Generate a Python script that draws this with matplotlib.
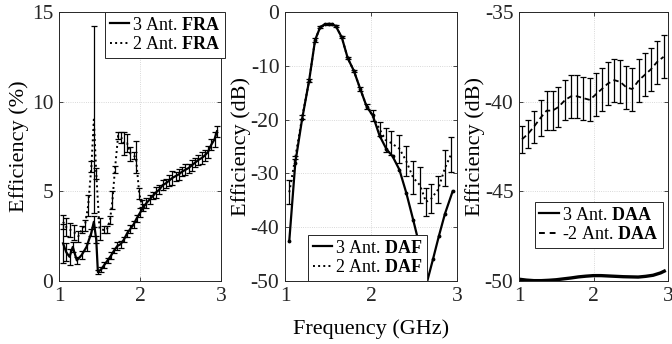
import numpy as np
import matplotlib
matplotlib.use('Agg')
import matplotlib.pyplot as plt
from matplotlib.lines import Line2D

plt.rcParams['font.family'] = ['Liberation Serif', 'DejaVu Serif']
plt.rcParams['mathtext.fontset'] = 'custom'
plt.rcParams['mathtext.rm'] = 'Liberation Serif'
plt.rcParams['mathtext.bf'] = 'Liberation Serif:bold'
plt.rcParams['font.size'] = 15

# ---- FRA (left, %) ----
fra3_x = [1.05, 1.09, 1.13, 1.17, 1.22, 1.28, 1.34, 1.40, 1.43, 1.46, 1.48, 1.52, 1.56, 1.60,
          1.64, 1.68, 1.72, 1.76, 1.80, 1.84, 1.88, 1.92, 1.96, 2.00, 2.04, 2.08, 2.12, 2.16,
          2.20, 2.24, 2.28, 2.32, 2.36, 2.40, 2.44, 2.48, 2.52, 2.56, 2.60, 2.64, 2.68, 2.72,
          2.76, 2.80, 2.84, 2.88, 2.92, 2.95]
fra3_y = [2.1, 1.6, 1.35, 1.9, 1.15, 1.45, 1.9, 2.7, 3.3, 2.3, 0.5, 0.65, 0.9, 1.15,
          1.4, 1.7, 1.95, 2.05, 2.3, 2.65, 2.9, 3.15, 3.5, 3.8, 4.1, 4.35, 4.55, 4.75,
          4.95, 5.1, 5.35, 5.45, 5.6, 5.75, 5.85, 5.95, 6.1, 6.2, 6.3, 6.45, 6.6, 6.75,
          6.85, 7.0, 7.2, 7.6, 7.9, 8.35]
fra3_err = [1.1, 0.5, 0.45, 0.3, 0.2, 0.2, 0.2, 0.2, 0.3, 0.2, 0.1, 0.15, 0.15, 0.15,
            0.2, 0.15, 0.2, 0.2, 0.15, 0.2, 0.25, 0.2, 0.2, 0.25, 0.2, 0.3, 0.25, 0.2,
            0.3, 0.25, 0.3, 0.25, 0.3, 0.4, 0.25, 0.3, 0.25, 0.3, 0.25, 0.3, 0.25, 0.3,
            0.35, 0.3, 0.35, 0.3, 0.4, 0.3]

fra2_x = [1.05, 1.09, 1.14, 1.19, 1.24, 1.28, 1.32, 1.36, 1.40, 1.43, 1.46, 1.50, 1.55,
          1.59, 1.63, 1.66, 1.69, 1.73, 1.77, 1.80, 1.84, 1.88, 1.92, 1.95, 1.99, 2.02]
fra2_y = [3.3, 3.0, 2.85, 2.7, 2.5, 2.85, 3.1, 4.2, 6.4, 9.0, 6.0, 2.9, 2.85,
          2.85, 3.4, 4.5, 6.2, 8.1, 8.0, 7.65, 7.7, 7.1, 7.0, 6.9, 4.9, 4.3]
fra2_err = [0.4, 0.5, 0.4, 0.4, 0.3, 0.2, 0.3, 0.6, 0.3, 5.2, 0.3, 0.6, 0.2,
            0.2, 0.2, 0.5, 0.2, 0.2, 0.3, 0.65, 0.5, 0.4, 0.2, 0.9, 0.3, 0.2]

# ---- DAF (middle, dB) ----
daf3_x = [1.05, 1.12, 1.20, 1.28, 1.35, 1.41, 1.46, 1.51, 1.55, 1.59, 1.66, 1.73, 1.80,
          1.875, 1.95, 2.02, 2.10, 2.18, 2.25, 2.33, 2.41, 2.49, 2.55, 2.63, 2.72, 2.79,
          2.86, 2.95]
daf3_y = [-42.5, -28.0, -19.8, -12.8, -5.2, -2.8, -2.3, -2.2, -2.3, -2.6, -4.7, -8.6, -10.9,
          -14.3, -17.6, -19.2, -23.0, -25.5, -26.8, -29.3, -33.6, -38.6, -42.5, -51.5, -46.0,
          -41.6, -37.5, -33.3]

daf2_x = [1.05, 1.12, 1.20, 1.28, 1.35, 1.41, 1.51, 1.59, 1.66, 1.73, 1.80, 1.875, 1.95,
          2.02, 2.10, 2.17, 2.23, 2.33, 2.41, 2.49, 2.57, 2.64, 2.70, 2.78, 2.86, 2.93]
daf2_y = [-33.5, -27.0, -19.5, -12.8, -5.2, -2.8, -2.2, -2.6, -4.7, -8.6, -10.9, -14.3, -17.6,
          -19.3, -21.8, -23.8, -24.3, -25.4, -27.7, -30.8, -32.2, -35.3, -34.7, -33.0, -29.0, -26.5]
daf2_err = [2.2, 0.3, 0.3, 0.3, 0.3, 0.2, 0.2, 0.2, 0.2, 0.2, 0.2, 0.3, 0.5,
            1.0, 1.3, 2.3, 2.2, 2.6, 2.8, 3.1, 3.3, 2.6, 2.7, 2.5, 3.4, 3.2]

# ---- DAA (right, dB) ----
daa3_x = [1.0, 1.1, 1.2, 1.3, 1.4, 1.5, 1.6, 1.7, 1.8, 1.9, 2.0, 2.1, 2.2, 2.3, 2.4,
          2.5, 2.6, 2.7, 2.8, 2.9, 2.95]
daa3_y = [-49.9, -49.95, -49.98, -49.98, -49.96, -49.93, -49.88, -49.83, -49.77, -49.73,
          -49.7, -49.7, -49.72, -49.74, -49.76, -49.77, -49.78, -49.74, -49.68, -49.55, -49.45]

daa2_x = [1.04, 1.12, 1.20, 1.29, 1.37, 1.45, 1.53, 1.62, 1.70, 1.78, 1.86, 1.95,
          2.03, 2.11, 2.19, 2.28, 2.36, 2.44, 2.52, 2.61, 2.69, 2.77, 2.85, 2.94]
daa2_y = [-42.1, -41.8, -41.4, -40.9, -40.5, -40.5, -40.3, -39.9, -39.7, -39.7, -39.8, -39.9,
          -39.6, -39.3, -39.0, -38.8, -38.9, -39.2, -39.3, -38.8, -38.5, -38.2, -37.8, -37.5]
daa2_err = [0.75, 0.8, 0.9, 1.0, 1.1, 1.1, 1.1, 1.1, 1.2, 1.2, 1.2, 1.2,
            1.2, 1.2, 1.2, 1.2, 1.2, 1.2, 1.2, 1.2, 1.2, 1.2, 1.2, 1.2]

fig = plt.figure(figsize=(6.72, 3.44), dpi=100)
ax1 = fig.add_axes([59 / 672, 63 / 344, 162 / 672, 269 / 344])
ax2 = fig.add_axes([285 / 672, 63 / 344, 172 / 672, 269 / 344])
ax3 = fig.add_axes([519 / 672, 63 / 344, 149 / 672, 269 / 344])

eb = dict(color='k', ecolor='k', elinewidth=0.9, capsize=2, capthick=0.9)

ax1.errorbar(fra2_x, fra2_y, yerr=fra2_err, ls=':', lw=1.4, **eb)
ax1.errorbar(fra3_x, fra3_y, yerr=fra3_err, ls='-', lw=1.6, **eb)

ax2.errorbar(daf2_x, daf2_y, yerr=daf2_err, ls=':', lw=1.4, **eb)
ax2.plot(daf3_x, daf3_y, '-', color='k', lw=1.6, marker='.', ms=3.5)

ax3.plot(daa3_x, daa3_y, '-', color='k', lw=2.4)
ax3.errorbar(daa2_x, daa2_y, yerr=daa2_err, ls=(0, (3, 2)), lw=1.3, **eb)

ax1.set_ylim(0, 15)
ax1.set_yticks([0, 5, 10, 15])
ax2.set_ylim(-50, 0)
ax2.set_yticks([-50, -40, -30, -20, -10, 0])
ax2.set_yticklabels(['-50', '-40', '-30', '-20', '-10', '0'])
ax3.set_ylim(-50, -35)
ax3.set_yticks([-50, -45, -40, -35])
ax3.set_yticklabels(['-50', '-45', '-40', '-35'])

ax1.set_ylabel('Efficiency (%)', fontsize=16, labelpad=2)
ax2.set_ylabel('Efficiency (dB)', fontsize=16, labelpad=0)
ax3.set_ylabel('Efficiency (dB)', fontsize=16, labelpad=0)
ax2.set_xlabel('Frequency (GHz)', fontsize=16, labelpad=10)

for ax in (ax1, ax2, ax3):
    ax.set_xlim(1, 3)
    ax.set_xticks([1, 2, 3])
    ax.grid(True, ls=':', lw=0.6, color='0.8')
    ax.set_axisbelow(True)
    ax.tick_params(direction='in', length=3, width=0.6, top=True, right=True,
                   colors='0.15', labelcolor='0.15', labelsize=15.5, pad=4)
    for s in ax.spines.values():
        s.set_color('0.15')
        s.set_linewidth(0.7)

leg_kw = dict(fontsize=13, frameon=True, fancybox=False, framealpha=1, edgecolor='0.15',
              handlelength=1.1, handletextpad=0.15, borderpad=0.25, labelspacing=0.15,
              borderaxespad=0)

solid = Line2D([], [], color='k', lw=1.6, ls='-')
dotted = Line2D([], [], color='k', lw=1.4, ls=':')
dashed = Line2D([], [], color='k', lw=1.4, ls=(0, (3, 2.5)))

lg = ax1.legend([solid, dotted], ['3 Ant. $\\mathbf{FRA}$', '2 Ant. $\\mathbf{FRA}$'],
                loc='upper right', bbox_to_anchor=(1.025, 1.0), **leg_kw)
lg.get_frame().set_linewidth(0.7)
lg = ax2.legend([solid, dotted], ['3 Ant. $\\mathbf{DAF}$', '2 Ant. $\\mathbf{DAF}$'],
                loc='lower left', bbox_to_anchor=(0.134, 0.0), **leg_kw)
lg.get_frame().set_linewidth(0.7)
lg = ax3.legend([solid, dashed], ['3 Ant. $\\mathbf{DAA}$', '-2 Ant. $\\mathbf{DAA}$'],
                loc='lower left', bbox_to_anchor=(0.107, 0.123), **leg_kw)
lg.get_frame().set_linewidth(0.7)

plt.savefig('out.png', dpi=100)
